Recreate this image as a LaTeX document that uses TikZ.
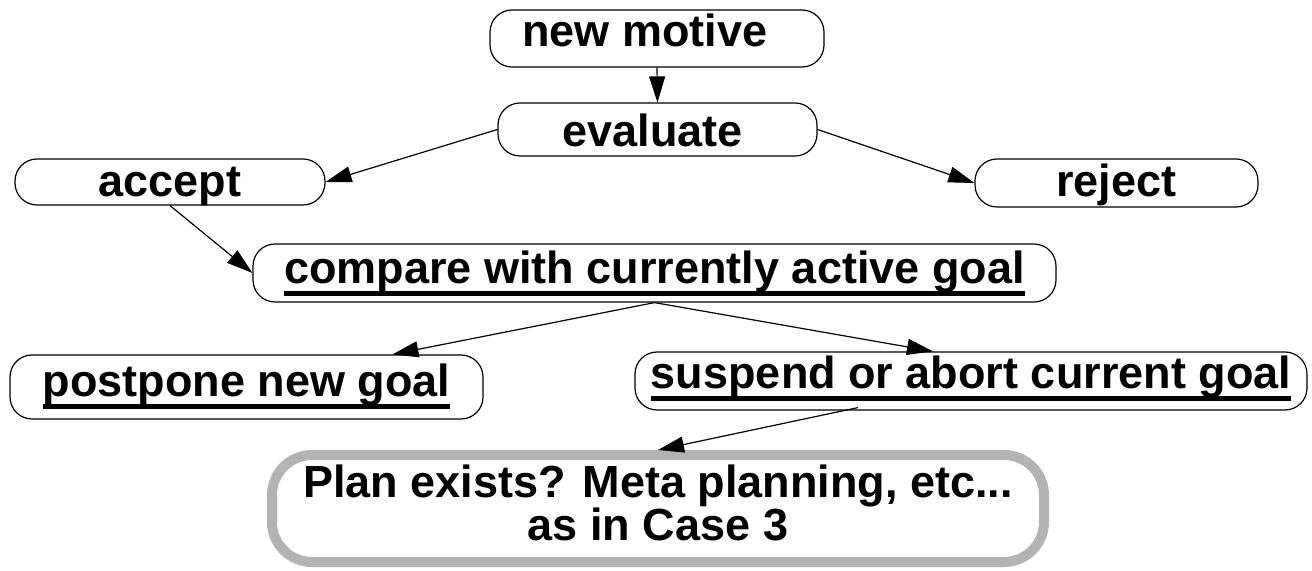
\documentclass[tikz,border=0pt]{standalone}
\usepackage{fontspec}
\setmainfont{Liberation Sans}
\usetikzlibrary{arrows.meta}
\newsavebox\ulbox
% thick underline bar under a word group
\newcommand\ulbar[1]{\sbox\ulbox{#1}\rlap{\rule[-6pt]{\wd\ulbox}{2.5pt}}\usebox\ulbox}
\definecolor{framegray}{RGB}{179,179,179}
\begin{document}
\begin{tikzpicture}[x=0.5pt,y=-0.5pt,
  font=\fontsize{22.5}{21.5}\selectfont\bfseries,
  stadium/.style={draw=black, line width=0.6pt, rounded corners=11pt,
    fill=white, inner sep=0pt, text depth=0pt, text height=#1},
  link/.style={draw=black, line width=0.6pt, -{Triangle[length=13pt,width=8pt]}}]
\useasboundingbox (0,0) rectangle (1312,571);

\node[stadium=8.5pt, minimum width=167pt, minimum height=28.5pt] (motive) at (657,38.5) {\kern-12pt new motive};
\node[stadium=17pt, minimum width=159.5pt, minimum height=26.5pt] (evaluate) at (657.5,129.5) {\kern-5pt evaluate};
\node[stadium=14.5pt, minimum width=155pt, minimum height=23pt] (accept) at (170,182) {accept};
\node[stadium=13.7pt, minimum width=141.5pt, minimum height=24pt] (reject) at (1116.5,183) {reject};
\node[stadium=11pt, minimum width=401.5pt, minimum height=29pt] (compare) at (654.5,273) {\ulbar{compare with currently active goal}};
\node[stadium=10pt, minimum width=236.5pt, minimum height=32pt] (postpone) at (246.5,387) {\ulbar{postpone new goal}};
\node[stadium=8pt, minimum width=336pt, minimum height=29pt] (suspend) at (971,381) {\ulbar{suspend or abort current goal}};
\node[draw=framegray, line width=5pt, rounded corners=20pt, inner sep=0pt,
  minimum width=386pt, minimum height=53.5pt, align=center,
  text height=31.5pt, text depth=0pt] (plan) at (658,508.5)
  {Plan exists? Meta planning, etc...\\as in Case 3};

\draw[link] (motive.south) -- (evaluate.north);
\draw[link] (evaluate.west) -- (accept.east);
\draw[link] (evaluate.east) -- (reject.west);
\draw[link] (accept.south) -- (compare.west);
\draw[link] (compare.south) -- ([xshift=73pt]postpone.north);
\draw[link] (compare.south) -- ([xshift=-19pt]suspend.north);
\draw[link] ([xshift=-56.5pt,yshift=1.5pt]suspend.south) -- (plan.north);
\end{tikzpicture}
\end{document}
